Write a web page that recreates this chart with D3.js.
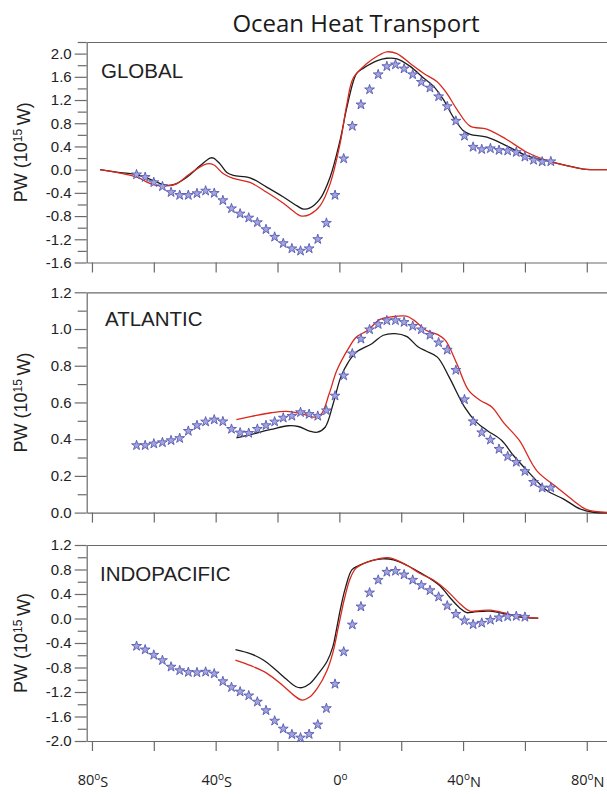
<!DOCTYPE html>
<html>
<head>
<meta charset="utf-8">
<script src="https://cdn.jsdelivr.net/npm/d3@7"></script>
<style>
  body { margin: 0; background: #fff; }
  svg { display: block; }
  .tick text { font-family: "Liberation Sans", Arial, sans-serif; font-size: 15px; fill: #222; }
</style>
</head>
<body>
<div id="chart"></div>
<script>
// T42 gaussian latitudes used by the observed estimates (stars)
const starLat = [-65.58, -62.79, -60.00, -57.21, -54.42, -51.63, -48.84, -46.04, -43.25, -40.46,
  -37.67, -34.88, -32.09, -29.30, -26.51, -23.72, -20.93, -18.14, -15.35, -12.56,
  -9.77, -6.98, -4.19, -1.40, 1.40, 4.19, 6.98, 9.77, 12.56, 15.35,
  18.14, 20.93, 23.72, 26.51, 29.30, 32.09, 34.88, 37.67, 40.46, 43.25,
  46.04, 48.84, 51.63, 54.42, 57.21, 60.00, 62.79, 65.58, 68.37];

// GLOBAL
const globalStars = [-0.085, -0.13, -0.22, -0.29, -0.39, -0.44, -0.44, -0.41, -0.365, -0.405,
  -0.53, -0.67, -0.76, -0.83, -0.91, -1.03, -1.16, -1.27, -1.36, -1.40,
  -1.36, -1.20, -0.92, -0.44, 0.19, 0.75, 1.12, 1.38, 1.64, 1.78,
  1.81, 1.74, 1.64, 1.51, 1.41, 1.26, 1.09, 0.84, 0.58, 0.39,
  0.35, 0.365, 0.335, 0.325, 0.30, 0.22, 0.165, 0.137, 0.14];
const globalBlackLat = [-77.4, -70.9, -65.5, -60.1, -56.9, -53.7, -49.3, -45.0, -41.8, -40.7, -38.6, -36.4, -34.3,
  -28.9, -23.5, -18.1, -13.8, -11.6, -9.5, -6.2, -3.0, 0.2, 2.4, 4.5, 5.6, 7.8, 12.1, 15.3, 18.6,
  22.9, 27.2, 30.4, 33.6, 36.9, 40.1, 42.3, 47.7, 54.1, 60.6, 67.1, 73.5, 78.9, 86.5, 89];
const globalBlack = [0.0, -0.05, -0.085, -0.19, -0.26, -0.26, -0.13, 0.07, 0.2, 0.2, 0.1, -0.05, -0.1,
  -0.14, -0.3, -0.47, -0.62, -0.68, -0.66, -0.5, -0.13, 0.5, 1.07, 1.52, 1.66, 1.75, 1.875, 1.92, 1.91,
  1.78, 1.58, 1.44, 1.21, 0.9, 0.67, 0.61, 0.56, 0.41, 0.24, 0.15, 0.07, 0.01, 0.0, 0.0];
const globalRedLat = [-77.4, -70.9, -65.5, -60.1, -55.8, -52.6, -48.3, -42.9, -40.7, -37.5, -34.3,
  -28.9, -23.5, -18.1, -13.8, -12.2, -9.5, -6.2, -3.0, 0.2, 2.4, 4.5, 8.9, 12.1, 15.3, 18.6,
  22.9, 27.2, 31.5, 34.7, 38.0, 42.3, 47.7, 54.1, 60.6, 67.1, 73.5, 78.9, 86.5, 89];
const globalRed = [0.0, -0.06, -0.13, -0.26, -0.28, -0.245, -0.07, 0.1, 0.085, -0.07, -0.15,
  -0.22, -0.39, -0.58, -0.76, -0.8, -0.77, -0.62, -0.245, 0.44, 1.12, 1.58, 1.83, 1.95, 2.03, 2.0,
  1.83, 1.66, 1.52, 1.32, 1.04, 0.75, 0.70, 0.52, 0.30, 0.16, 0.07, 0.01, 0.0, 0.0];

// ATLANTIC
const atlanticStars = [0.366, 0.366, 0.375, 0.382, 0.393, 0.405, 0.444, 0.475, 0.495, 0.506,
  0.496, 0.455, 0.435, 0.433, 0.455, 0.475, 0.495, 0.516, 0.526, 0.546,
  0.536, 0.526, 0.556, 0.636, 0.746, 0.866, 0.946, 0.997, 1.026, 1.046,
  1.047, 1.037, 1.016, 0.997, 0.967, 0.926, 0.886, 0.776, 0.616, 0.496,
  0.436, 0.396, 0.346, 0.306, 0.275, 0.225, 0.166, 0.135, 0.135];
const atlanticBlackLat = [-33.3, -28.4, -22.1, -16.5, -13.3, -9.6, -7.1, -4.6, -2.0, 0.45, 2.9, 5.5,
  10.5, 14.2, 18.0, 21.7, 25.5, 28.0, 31.7, 35.5, 40.5, 44.3, 48.0, 52.5, 56.3, 61.7, 67.1,
  72.4, 77.8, 82.1, 89];
const atlanticBlack = [0.407, 0.426, 0.453, 0.473, 0.469, 0.444, 0.438, 0.465, 0.593, 0.738, 0.82, 0.875,
  0.92, 0.966, 0.975, 0.96, 0.902, 0.88, 0.847, 0.738, 0.575, 0.493, 0.445, 0.393, 0.311, 0.211, 0.12,
  0.075, 0.02, 0.002, 0.0];
const atlanticRedLat = [-33.3, -28.4, -22.1, -17.1, -12.1, -8.3, -5.8, -3.3, -0.8, 2.9, 5.5, 9.2,
  13.0, 16.8, 21.7, 24.2, 28.0, 31.7, 34.3, 38.0, 41.8, 45.6, 49.3, 53.1, 58.2, 63.8, 70.3,
  75.7, 80.0, 89];
const atlanticRed = [0.507, 0.524, 0.544, 0.551, 0.538, 0.52, 0.538, 0.647, 0.775, 0.893, 0.956, 0.993,
  1.051, 1.066, 1.07, 1.047, 0.993, 0.971, 0.938, 0.811, 0.666, 0.611, 0.575, 0.49, 0.393, 0.229, 0.138,
  0.065, 0.016, 0.0];

// INDOPACIFIC
const indoStars = [-0.451, -0.509, -0.596, -0.683, -0.79, -0.848, -0.877, -0.882, -0.872, -0.901,
  -1.027, -1.124, -1.196, -1.259, -1.361, -1.501, -1.671, -1.801, -1.893, -1.947,
  -1.889, -1.734, -1.467, -1.07, -0.543, -0.102, 0.193, 0.421, 0.629, 0.759,
  0.774, 0.716, 0.629, 0.542, 0.459, 0.353, 0.208, 0.072, -0.034, -0.097,
  -0.073, -0.025, 0.014, 0.033, 0.038, 0.024];
const indoBlackLat = [-33.6, -28.4, -24.6, -20.9, -17.1, -14.0, -12.1, -9.6, -7.1, -4.0, -2.1, -0.9,
  0.4, 2.0, 4.1, 6.6, 10.4, 14.1, 17.5, 21.8, 26.1, 29.3, 32.6, 35.8, 39.0, 41.2, 43.3,
  48.7, 54.1, 58.4, 64.3];
const indoBlack = [-0.509, -0.581, -0.678, -0.824, -0.993, -1.114, -1.129, -1.066, -0.92, -0.703, -0.46, -0.17,
  0.169, 0.508, 0.798, 0.871, 0.943, 0.975, 0.958, 0.87, 0.75, 0.653, 0.532, 0.339, 0.169, 0.096, 0.106,
  0.12, 0.071, 0.023, 0.005];
const indoRedLat = [-33.6, -28.4, -23.4, -18.4, -14.6, -12.1, -9.6, -7.1, -4.0, -2.1, -0.25, 1.6,
  3.5, 5.4, 9.1, 12.9, 16.4, 21.8, 26.1, 30.4, 34.7, 39.0, 42.2, 45.4, 48.7, 53.0, 57.3, 64.3];
const indoRed = [-0.678, -0.775, -0.896, -1.09, -1.259, -1.332, -1.283, -1.138, -0.848, -0.557, -0.122, 0.314,
  0.653, 0.822, 0.919, 0.978, 0.99, 0.87, 0.735, 0.629, 0.459, 0.241, 0.12, 0.13, 0.136, 0.096, 0.038, 0.005];

// axis ticks
const globalTicks = [-1.6, -1.2, -0.8, -0.4, 0.0, 0.4, 0.8, 1.2, 1.6, 2.0];
const globalMinor = [-1.4, -1.0, -0.6, -0.2, 0.2, 0.6, 1.0, 1.4, 1.8, 2.2];
const atlanticTicks = [0.0, 0.2, 0.4, 0.6, 0.8, 1.0, 1.2];
const atlanticMinor = [0.1, 0.3, 0.5, 0.7, 0.9, 1.1];
const indoTicks = [-2.0, -1.6, -1.2, -0.8, -0.4, 0.0, 0.4, 0.8, 1.2];
const indoMinor = [-1.8, -1.4, -1.0, -0.6, -0.2, 0.2, 0.6, 1.0];
const xTicks = [-80, -60, -40, -20, 0, 20, 40, 60, 80];
const xLabelLat = [-80, -40, 0, 40, 80];
const xLabelNum = ["80", "40", "0", "40", "80"];
const xLabelHemi = ["S", "S", "", "N", "N"];

const width = 607;
const height = 794;

const svg = d3.select("#chart").append("svg")
  .attr("width", width)
  .attr("height", height);

svg.append("text")
  .attr("x", 356)
  .attr("y", 32)
  .attr("text-anchor", "middle")
  .style("font-family", "'Open Sans', sans-serif")
  .style("font-size", "24px")
  .style("fill", "#1a1a1a")
  .text("Ocean Heat Transport");

const x = d3.scaleLinear().domain([-81.7, 90]).range([86.7, 617.7]);

const panels = [
  { name: "GLOBAL", domain: [-1.6, 2.2], ticks: globalTicks, minor: globalMinor, stars: globalStars,
    black: [globalBlackLat, globalBlack], red: [globalRedLat, globalRed],
    top: 42, h: 220.5, nameX: 101, nameY: 35.5 },
  { name: "ATLANTIC", domain: [0, 1.2], ticks: atlanticTicks, minor: atlanticMinor, stars: atlanticStars,
    black: [atlanticBlackLat, atlanticBlack], red: [atlanticRedLat, atlanticRed],
    top: 292.3, h: 220.3, nameX: 105, nameY: 34 },
  { name: "INDOPACIFIC", domain: [-2.0, 1.2], ticks: indoTicks, minor: indoMinor, stars: indoStars,
    black: [indoBlackLat, indoBlack], red: [indoRedLat, indoRed],
    top: 545, h: 196, nameX: 100, nameY: 36 }
];
const axisColor = "#6a6a6a";

const line = d3.line()
  .x(d => x(d[0]))
  .y(d => d[2](d[1]))
  .curve(d3.curveCatmullRom.alpha(0.5));

panels.forEach(p => {
  const y = d3.scaleLinear().domain(p.domain).range([p.top + p.h, p.top]);
  const g = svg.append("g");

  // minor y ticks
  g.append("g")
    .attr("transform", `translate(${x.range()[0]},0)`)
    .call(d3.axisLeft(y).tickValues(p.minor).tickSize(9).tickSizeOuter(0).tickFormat(""))
    .call(a => a.select(".domain").remove());

  // major y ticks
  g.append("g")
    .attr("transform", `translate(${x.range()[0]},0)`)
    .call(d3.axisLeft(y).tickValues(p.ticks).tickSize(12).tickSizeOuter(0).tickPadding(3)
      .tickFormat(d => d.toFixed(1)));

  // bottom axis
  g.append("g")
    .attr("transform", `translate(0,${p.top + p.h})`)
    .call(d3.axisBottom(x).tickValues(xTicks).tickSize(10).tickSizeOuter(0).tickFormat(""));

  // top border
  g.append("g")
    .attr("transform", `translate(0,${p.top})`)
    .call(d3.axisTop(x).tickValues([]).tickSizeOuter(0));

  g.selectAll(".domain, .tick line").attr("stroke", axisColor).attr("stroke-width", 1.2);

  // y label
  const yl = g.append("text")
    .attr("transform", `translate(21,${p.top + p.h / 2}) rotate(-90)`)
    .attr("text-anchor", "middle")
    .attr("dy", "0.35em")
    .style("font-family", "'Liberation Sans', Arial, sans-serif")
    .style("font-size", "18px")
    .style("fill", "#222");
  yl.append("tspan").text("PW (10");
  yl.append("tspan").attr("dy", "-0.45em").style("font-size", "12px").text("15");
  yl.append("tspan").attr("dy", "0.45em").text("\u2009W)");

  // panel name
  g.append("text")
    .attr("x", p.nameX)
    .attr("y", p.top + p.nameY)
    .style("font-family", "'Liberation Sans', Arial, sans-serif")
    .style("font-size", "20.5px")
    .style("fill", "#222")
    .text(p.name);

  // model lines
  const blackPts = p.black[0].map((lat, i) => [lat, p.black[1][i], y]);
  const redPts = p.red[0].map((lat, i) => [lat, p.red[1][i], y]);
  g.append("path")
    .attr("d", line(blackPts))
    .attr("fill", "none")
    .attr("stroke", "#1c1c1c")
    .attr("stroke-width", 1.3);
  g.append("path")
    .attr("d", line(redPts))
    .attr("fill", "none")
    .attr("stroke", "#d8281c")
    .attr("stroke-width", 1.3);

  // observed estimates (stars)
  g.selectAll(".star")
    .data(p.stars)
    .enter()
    .append("path")
    .attr("class", "star")
    .attr("d", d3.symbol(d3.symbolStar, 30)())
    .attr("transform", (d, i) => `translate(${x(starLat[i])},${y(d)})`)
    .attr("fill", "#a4a5dd")
    .attr("stroke", "#5659b3")
    .attr("stroke-width", 0.9);
});

// x labels under the last panel
const xl = svg.append("g")
  .selectAll("text")
  .data(xLabelLat)
  .enter()
  .append("text")
  .attr("x", d => x(d) + 1)
  .attr("y", 785)
  .attr("text-anchor", "middle")
  .style("font-family", "'Open Sans', sans-serif")
  .style("font-size", "14.5px")
  .style("fill", "#222");
xl.append("tspan").text((d, i) => xLabelNum[i]);
xl.append("tspan").attr("dy", "-0.5em").style("font-size", "10px").text("o");
xl.append("tspan").attr("dy", "0.5em").text((d, i) => xLabelHemi[i]);
</script>
</body>
</html>
